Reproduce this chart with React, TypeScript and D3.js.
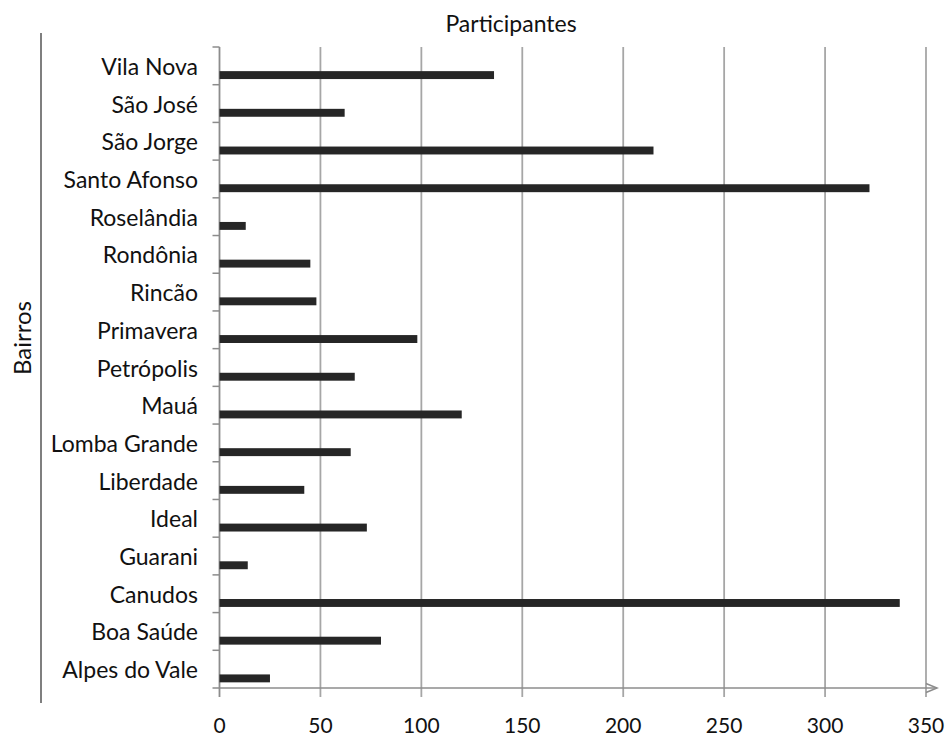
import React from "react";
import * as d3 from "d3";

// Bairros (top to bottom, as shown)
const bairros = [
  "Vila Nova",
  "São José",
  "São Jorge",
  "Santo Afonso",
  "Roselândia",
  "Rondônia",
  "Rincão",
  "Primavera",
  "Petrópolis",
  "Mauá",
  "Lomba Grande",
  "Liberdade",
  "Ideal",
  "Guarani",
  "Canudos",
  "Boa Saúde",
  "Alpes do Vale",
];

const participantes = [136, 62, 215, 322, 13, 45, 48, 98, 67, 120, 65, 42, 73, 14, 337, 80, 25];

const xTicks = [0, 50, 100, 150, 200, 250, 300, 350];

const W = 946;
const H = 738;
const FONT = "Lato, 'Open Sans', sans-serif";

const App: React.FC = () => {
  const left = 219.5;
  const right = 926;
  const top = 47;
  const bottom = 688;

  const x = d3.scaleLinear().domain([0, 350]).range([left, right]);
  const y = d3.scaleBand().domain(bairros).range([top, bottom]).padding(0);
  const bw = y.bandwidth();

  const grid = "#a6a6a6";
  const axis = "#8c8c8c";
  const ink = "#111";

  return (
    <svg
      width={W}
      height={H}
      style={{ position: "absolute", left: 0, top: 0, background: "#fff" }}
      fontFamily={FONT}
    >
      {/* outer left line */}
      <line x1={41} x2={41} y1={33} y2={703} stroke="#7f7f7f" strokeWidth={2} />

      {/* title */}
      <text x={511} y={32} textAnchor="middle" fontSize={23} fill={ink}>
        Participantes
      </text>

      {/* y axis title */}
      <text
        transform={`translate(31,338) rotate(-90)`}
        textAnchor="middle"
        fontSize={24}
        fill={ink}
      >
        Bairros
      </text>

      {/* gridlines + x ticks */}
      {xTicks.map((t) => (
        <g key={t}>
          <line
            x1={x(t)}
            x2={x(t)}
            y1={top}
            y2={bottom + 9}
            stroke={t === 0 ? axis : grid}
            strokeWidth={1.8}
          />
          <text x={x(t)} y={733} textAnchor="middle" fontSize={21} fill={ink}>
            {t}
          </text>
        </g>
      ))}

      {/* y ticks */}
      {d3.range(bairros.length + 1).map((i) => (
        <line
          key={i}
          x1={left - 7}
          x2={left}
          y1={top + i * bw}
          y2={top + i * bw}
          stroke={axis}
          strokeWidth={1.5}
        />
      ))}

      {/* x axis with arrow */}
      <line x1={left} x2={937} y1={bottom} y2={bottom} stroke={axis} strokeWidth={1.5} />
      <polyline
        points={`926,683.5 937,688 926,692.5`}
        fill="none"
        stroke={axis}
        strokeWidth={1.5}
      />

      {/* bars */}
      {bairros.map((b, i) => (
        <rect
          key={b}
          x={x(0)}
          y={(y(b) as number) + bw * 0.64}
          width={x(participantes[i]) - x(0)}
          height={bw * 0.21}
          fill="#262626"
        />
      ))}

      {/* category labels */}
      {bairros.map((b) => (
        <text
          key={b}
          x={198}
          y={(y(b) as number) + bw / 2 + 9}
          textAnchor="end"
          fontSize={23}
          fill={ink}
        >
          {b}
        </text>
      ))}
    </svg>
  );
};

export default App;
